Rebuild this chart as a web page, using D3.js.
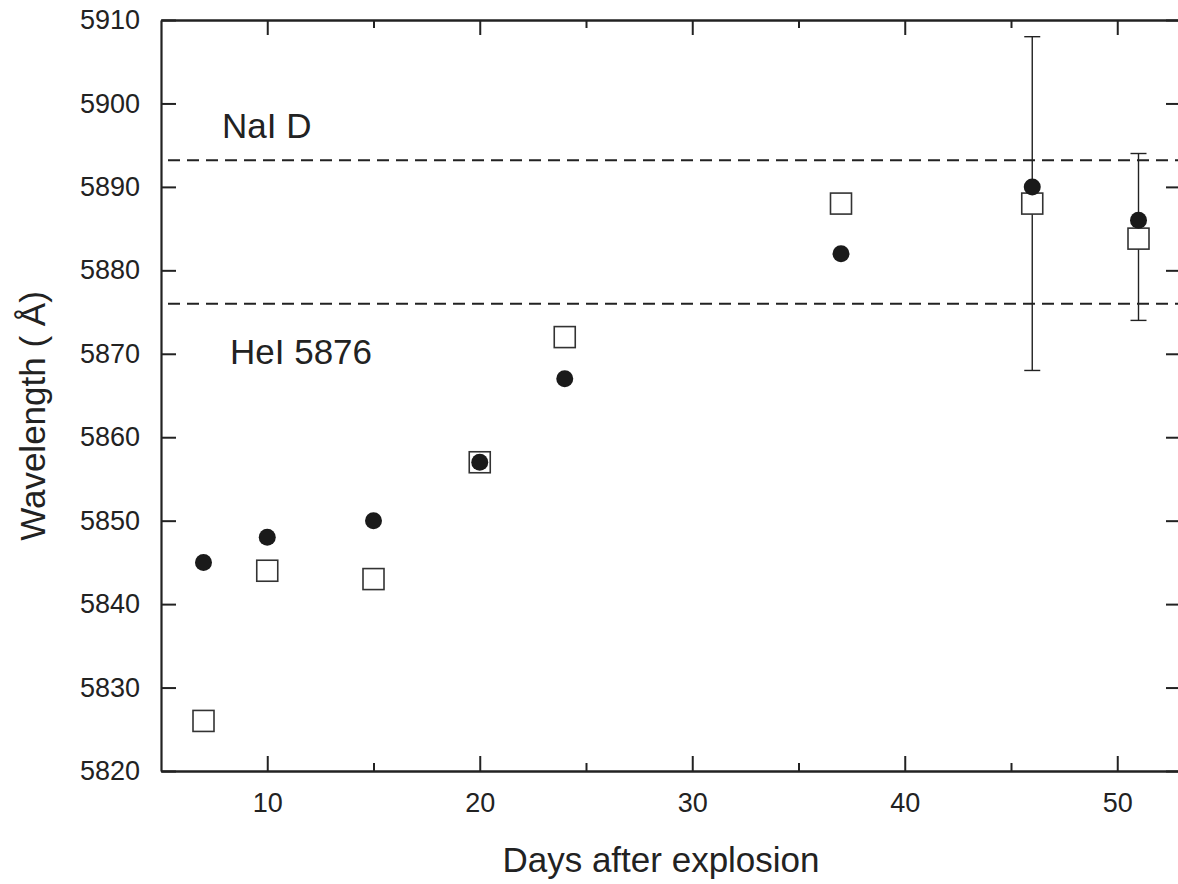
<!doctype html>
<html>
<head>
<meta charset="utf-8">
<script src="https://cdnjs.cloudflare.com/ajax/libs/d3/7.8.5/d3.min.js"></script>
<style>
  body { margin: 0; background: #fff; }
  svg text { font-family: "Liberation Sans", Arial, sans-serif; fill: #222; }
</style>
</head>
<body>
<svg id="chart" width="1178" height="884"></svg>
<script>
// days after explosion
var days = [7, 10, 15, 20, 24, 37, 46, 51];
// filled circles
var circleWave = [5845, 5848, 5850, 5857, 5867, 5882, 5890, 5886];
// open squares
var squareWave = [5826, 5844, 5843, 5857, 5872, 5888, 5888, 5883.8];
// error bars (only the last two squares have them)
var errDays = [46, 51];
var errWave = [5888, 5884];
var errSize = [20, 10];
// reference lines
var lineNames = ["NaI D", "HeI 5876"];
var lineWave = [5893.2, 5876];
var xTicks = [10, 20, 30, 40, 50];
var xMinor = [15, 25, 35, 45];
var yTicks = [5820, 5830, 5840, 5850, 5860, 5870, 5880, 5890, 5900, 5910];

var svg = d3.select("#chart");
var ink = "#222";

var x = d3.scaleLinear().domain([5, 53]).range([161, 1181]);
var y = d3.scaleLinear().domain([5820, 5910]).range([771, 20]);

//axes, ticks all pointing inward
svg.append("g").attr("transform", "translate(0," + y(5820) + ")")
    .call(d3.axisBottom(x).tickValues(xTicks).tickSize(-15).tickSizeOuter(0).tickPadding(22).tickFormat(d3.format("d")));
svg.append("g").attr("transform", "translate(0," + y(5820) + ")")
    .call(d3.axisBottom(x).tickValues(xMinor).tickSize(-8).tickSizeOuter(0).tickFormat(""));
svg.append("g").attr("transform", "translate(0," + y(5910) + ")")
    .call(d3.axisTop(x).tickValues(xTicks).tickSize(-15).tickSizeOuter(0).tickFormat(""));
svg.append("g").attr("transform", "translate(0," + y(5910) + ")")
    .call(d3.axisTop(x).tickValues(xMinor).tickSize(-8).tickSizeOuter(0).tickFormat(""));
svg.append("g").attr("transform", "translate(" + x(5) + ",0)")
    .call(d3.axisLeft(y).tickValues(yTicks).tickSize(-15).tickSizeOuter(0).tickPadding(21).tickFormat(d3.format("d")));
svg.append("g").attr("transform", "translate(" + x(53) + ",0)")
    .call(d3.axisRight(y).tickValues(yTicks).tickSize(-15).tickSizeOuter(0).tickFormat(""));

svg.selectAll(".domain").attr("stroke", ink).attr("stroke-width", 2.2);
svg.selectAll(".tick line").attr("stroke", ink).attr("stroke-width", 2);
svg.selectAll(".tick text").attr("font-size", 27).attr("fill", ink)
    .style("font-family", "'Liberation Sans', Arial, sans-serif");

// dashed reference lines + labels
svg.selectAll(".ref").data(lineWave).enter().append("line")
    .attr("x1", x(5)).attr("x2", x(53))
    .attr("y1", function(d) { return y(d); })
    .attr("y2", function(d) { return y(d); })
    .attr("stroke", ink).attr("stroke-width", 2)
    .attr("stroke-dasharray", "12,7").attr("stroke-dashoffset", 12);

svg.append("text").attr("x", 222).attr("y", 138).attr("font-size", 35).text(lineNames[0]);
svg.append("text").attr("x", 230).attr("y", 364).attr("font-size", 35).text(lineNames[1]);

// error bars
var eb = svg.append("g").attr("stroke", ink).attr("stroke-width", 1.4);
errDays.forEach(function(d, i) {
    var lo = y(errWave[i] - errSize[i]), hi = y(errWave[i] + errSize[i]);
    eb.append("line").attr("x1", x(d)).attr("x2", x(d)).attr("y1", lo).attr("y2", hi);
    eb.append("line").attr("x1", x(d) - 8).attr("x2", x(d) + 8).attr("y1", lo).attr("y2", lo);
    eb.append("line").attr("x1", x(d) - 8).attr("x2", x(d) + 8).attr("y1", hi).attr("y2", hi);
});

// open squares
var side = 21;
svg.append("g").selectAll("rect").data(days).enter().append("rect")
    .attr("x", function(d) { return x(d) - side / 2; })
    .attr("y", function(d, i) { return y(squareWave[i]) - side / 2; })
    .attr("width", side).attr("height", side)
    .attr("fill", "#fff").attr("stroke", "#333").attr("stroke-width", 1.6);

// filled circles
svg.append("g").selectAll("circle").data(days).enter().append("circle")
    .attr("cx", function(d) { return x(d); })
    .attr("cy", function(d, i) { return y(circleWave[i]); })
    .attr("r", 8.5)
    .attr("fill", "#1a1a1a");

// axis titles
svg.append("text").attr("x", 661).attr("y", 872).attr("text-anchor", "middle")
    .attr("font-size", 35).text("Days after explosion");
svg.append("text").attr("transform", "translate(45,416) rotate(-90)")
    .attr("text-anchor", "middle").attr("font-size", 35).text("Wavelength ( \u00c5)");
</script>
</body>
</html>
